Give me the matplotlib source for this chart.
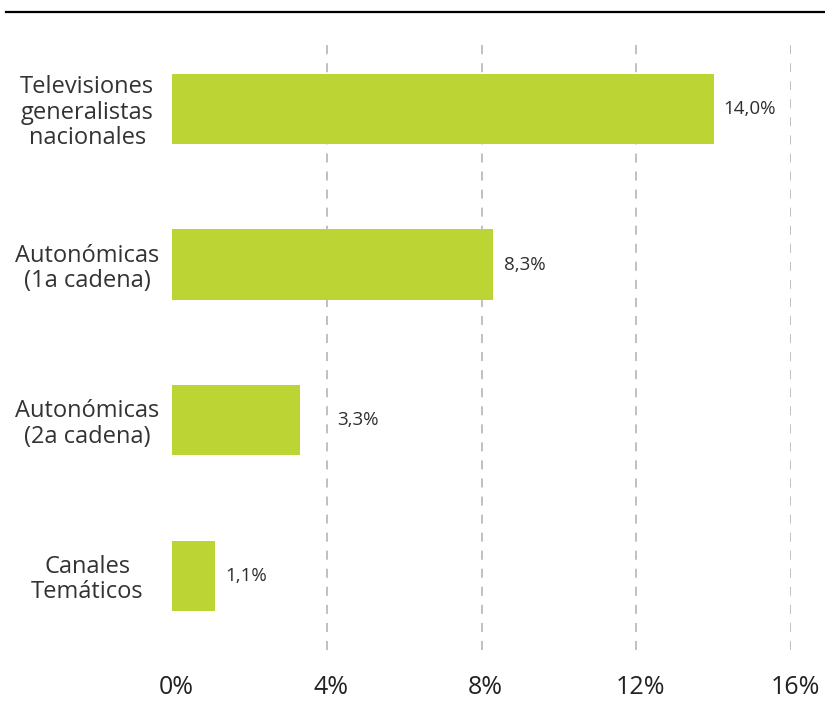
import matplotlib.pyplot as plt
import matplotlib.transforms as mtransforms

# Datos
categorias = ['Televisiones\ngeneralistas\nnacionales', 'Autonómicas\n(1a cadena)',
              'Autonómicas\n(2a cadena)', 'Canales\nTemáticos']
valores = [14.0, 8.3, 3.3, 1.1]
etiquetas = ['14,0%', '8,3%', '3,3%', '1,1%']
ticks = [0, 4, 8, 12, 16]
tick_labels = ['0%', '4%', '8%', '12%', '16%']

plt.rcParams['font.family'] = ['Open Sans', 'DejaVu Sans']

fig = plt.figure(figsize=(8.25, 7.17), dpi=100)
ax = fig.add_axes([172 / 825, 1 - 650 / 717, (791 - 172) / 825, 605 / 717])

y = list(range(len(valores)))
ax.barh(y, valores, height=0.45, color='#bcd535')
ax.set_ylim(len(valores) - 1 + 0.476, -0.41)
ax.set_xlim(0, 16)

# Etiquetas de valor (desplazamiento en puntos)
offsets = [7, 8, 27, 8]
for i, (v, t) in enumerate(zip(valores, etiquetas)):
    ax.annotate(t, (v, i), xytext=(offsets[i], 0), textcoords='offset points',
                va='center', ha='left', fontsize=13.5, color='#2e2e2e')

ax.set_xticks(ticks)
ax.set_xticklabels(tick_labels, fontsize=18, color='#222222')
ax.set_yticks(y)
ax.set_yticklabels(categorias, fontsize=17, color='#333333',
                   ha='center', multialignment='center', linespacing=1.08)
ax.tick_params(axis='y', length=0, pad=61)
ax.tick_params(axis='x', length=0, pad=18)

# las etiquetas del eje x van un poco a la derecha de la línea
desplaz = mtransforms.ScaledTranslation(3 / 72, 0, fig.dpi_scale_trans)
for lab in ax.get_xticklabels():
    lab.set_transform(lab.get_transform() + desplaz)

for t in ticks[1:]:
    ax.axvline(t, color='#b8bcc0', linestyle=(0, (5, 5)), linewidth=1.3, zorder=0)

for s in ax.spines.values():
    s.set_visible(False)

# Línea superior
fig.add_artist(plt.Line2D([6 / 825, 1], [1 - 12 / 717] * 2, color='black', linewidth=1.6))

fig.savefig('out.png', dpi=100)
